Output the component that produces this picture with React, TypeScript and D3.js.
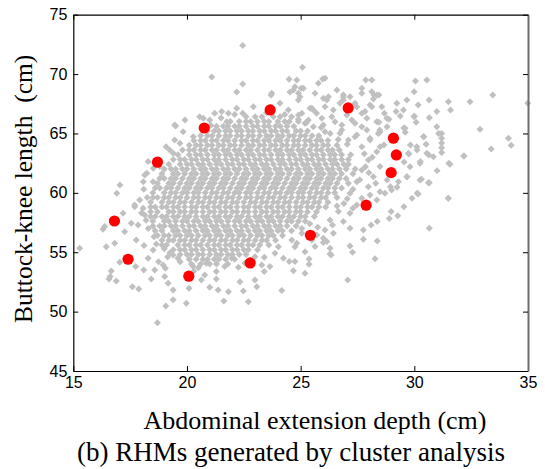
import React, { useEffect, useRef } from 'react'
import * as d3 from 'd3'

const xTicks = [15, 20, 25, 30, 35]
const yTicks = [45, 50, 55, 60, 65, 70, 75]

// dense centre of the grey cloud, read row by row: [y, x values]
const coreRows: [number, number[]][] = [
  [66.4, [22.6, 23.0, 23.3, 23.8, 24.1, 24.6]],
  [66.0, [21.9, 22.3, 22.6, 22.8, 23.1, 23.4, 23.6, 24.0, 24.3, 24.5, 24.9]],
  [65.6, [21.3, 21.6, 21.8, 22.1, 22.3, 22.6, 22.9, 23.1, 23.4, 23.6, 23.9, 24.1, 24.4, 24.7]],
  [65.2, [20.9, 21.2, 21.4, 21.7, 21.9, 22.2, 22.4, 22.7, 22.9, 23.2, 23.4, 23.7, 23.9, 24.2, 24.4, 24.8, 25.0, 25.3]],
  [64.8, [20.6, 20.9, 21.1, 21.4, 21.7, 21.9, 22.2, 22.4, 22.7, 22.9, 23.2, 23.5, 23.7, 24.0, 24.2, 24.5, 24.7, 25.0, 25.2, 25.5, 25.8]],
  [64.4, [20.3, 20.6, 20.8, 21.1, 21.3, 21.6, 21.8, 22.1, 22.4, 22.6, 22.9, 23.1, 23.4, 23.6, 23.9, 24.1, 24.4, 24.7, 24.9, 25.2, 25.4, 25.7, 25.9, 26.2]],
  [64.0, [20.1, 20.4, 20.6, 20.9, 21.1, 21.4, 21.6, 21.9, 22.1, 22.4, 22.7, 22.9, 23.2, 23.4, 23.7, 23.9, 24.2, 24.4, 24.7, 24.9, 25.2, 25.5, 25.7, 26.0, 26.2, 26.6]],
  [63.6, [19.8, 20.1, 20.3, 20.6, 20.8, 21.1, 21.3, 21.6, 21.8, 22.1, 22.3, 22.6, 22.8, 23.1, 23.4, 23.6, 23.9, 24.1, 24.4, 24.6, 24.9, 25.1, 25.4, 25.7, 25.9, 26.2, 26.4, 26.7]],
  [63.2, [19.6, 20.1, 20.4, 20.6, 20.9, 21.2, 21.4, 21.7, 21.9, 22.2, 22.4, 22.7, 22.9, 23.2, 23.4, 23.7, 24.0, 24.2, 24.5, 24.7, 25.0, 25.2, 25.5, 25.7, 26.0, 26.3, 26.5, 26.8, 27.2]],
  [62.8, [19.4, 19.7, 19.9, 20.2, 20.4, 20.7, 20.9, 21.2, 21.4, 21.7, 22.0, 22.2, 22.5, 22.7, 23.0, 23.2, 23.5, 23.7, 24.0, 24.2, 24.5, 24.8, 25.0, 25.3, 25.5, 25.8, 26.0, 26.3, 26.5, 26.8, 27.1]],
  [62.4, [19.2, 19.7, 20.0, 20.2, 20.5, 20.7, 21.0, 21.3, 21.5, 21.8, 22.0, 22.3, 22.5, 22.8, 23.0, 23.3, 23.5, 23.8, 24.1, 24.3, 24.6, 24.8, 25.1, 25.3, 25.6, 25.8, 26.1, 26.4, 26.6, 26.9, 27.1]],
  [62.0, [19.0, 19.3, 19.5, 19.8, 20.0, 20.3, 20.6, 20.8, 21.1, 21.3, 21.6, 21.8, 22.1, 22.3, 22.6, 22.9, 23.1, 23.4, 23.6, 23.9, 24.1, 24.4, 24.6, 24.9, 25.2, 25.4, 25.7, 25.9, 26.2, 26.4, 26.7, 27.0, 27.4]],
  [61.6, [18.9, 19.4, 19.6, 19.9, 20.2, 20.4, 20.7, 20.9, 21.2, 21.4, 21.7, 21.9, 22.2, 22.5, 22.7, 23.0, 23.2, 23.5, 23.7, 24.0, 24.2, 24.5, 24.8, 25.0, 25.3, 25.5, 25.8, 26.0, 26.3, 26.5, 26.8, 27.3]],
  [61.2, [18.8, 19.0, 19.3, 19.5, 19.8, 20.1, 20.3, 20.6, 20.8, 21.1, 21.3, 21.6, 21.8, 22.1, 22.4, 22.6, 22.9, 23.1, 23.4, 23.6, 23.9, 24.1, 24.4, 24.7, 24.9, 25.2, 25.4, 25.7, 25.9, 26.2, 26.4, 26.7, 27.0]],
  [60.8, [18.7, 19.2, 19.4, 19.7, 20.0, 20.2, 20.5, 20.7, 21.0, 21.2, 21.5, 21.7, 22.0, 22.3, 22.5, 22.8, 23.0, 23.3, 23.5, 23.8, 24.0, 24.3, 24.6, 24.8, 25.1, 25.3, 25.6, 25.8, 26.1, 26.3, 26.6, 27.1]],
  [60.4, [18.6, 18.8, 19.1, 19.3, 19.6, 19.9, 20.1, 20.4, 20.6, 20.9, 21.1, 21.4, 21.6, 21.9, 22.2, 22.4, 22.7, 22.9, 23.2, 23.4, 23.7, 23.9, 24.2, 24.5, 24.7, 25.0, 25.2, 25.5, 25.7, 26.0, 26.2, 26.5, 26.8]],
  [60.0, [18.5, 19.0, 19.3, 19.5, 19.8, 20.0, 20.3, 20.5, 20.8, 21.1, 21.3, 21.6, 21.8, 22.1, 22.3, 22.6, 22.8, 23.1, 23.4, 23.6, 23.9, 24.1, 24.4, 24.6, 24.9, 25.1, 25.4, 25.7, 25.9, 26.2, 26.5]],
  [59.6, [18.5, 18.7, 19.0, 19.2, 19.5, 19.7, 20.0, 20.3, 20.5, 20.8, 21.0, 21.3, 21.5, 21.8, 22.0, 22.3, 22.6, 22.8, 23.1, 23.3, 23.6, 23.8, 24.1, 24.3, 24.6, 24.9, 25.1, 25.4, 25.6, 25.9, 26.1, 26.6]],
  [59.2, [18.4, 18.9, 19.2, 19.4, 19.7, 19.9, 20.2, 20.5, 20.7, 21.0, 21.2, 21.5, 21.7, 22.0, 22.2, 22.5, 22.8, 23.0, 23.3, 23.5, 23.8, 24.0, 24.3, 24.5, 24.8, 25.1, 25.3, 25.6, 25.8, 26.2]],
  [58.8, [18.4, 18.6, 18.9, 19.1, 19.4, 19.6, 19.9, 20.2, 20.4, 20.7, 20.9, 21.2, 21.4, 21.7, 21.9, 22.2, 22.5, 22.7, 23.0, 23.2, 23.5, 23.7, 24.0, 24.2, 24.5, 24.8, 25.0, 25.3, 25.5, 25.8, 26.1]],
  [58.4, [18.4, 18.7, 19.2, 19.4, 19.7, 19.9, 20.2, 20.4, 20.7, 21.0, 21.2, 21.5, 21.7, 22.0, 22.2, 22.5, 22.7, 23.0, 23.3, 23.5, 23.8, 24.0, 24.3, 24.5, 24.8, 25.0, 25.3, 25.7]],
  [58.0, [18.4, 18.6, 18.9, 19.1, 19.4, 19.6, 19.9, 20.1, 20.4, 20.7, 20.9, 21.2, 21.4, 21.7, 21.9, 22.2, 22.4, 22.7, 23.0, 23.2, 23.5, 23.7, 24.0, 24.2, 24.5, 24.7, 25.0, 25.2, 25.6]],
  [57.6, [18.5, 19.0, 19.2, 19.5, 19.8, 20.0, 20.3, 20.5, 20.8, 21.0, 21.3, 21.5, 21.8, 22.1, 22.3, 22.6, 22.8, 23.1, 23.3, 23.6, 23.8, 24.1, 24.4, 24.6, 24.9, 25.2]],
  [57.2, [18.5, 18.8, 19.0, 19.3, 19.5, 19.8, 20.1, 20.3, 20.6, 20.8, 21.1, 21.3, 21.6, 21.8, 22.1, 22.4, 22.6, 22.9, 23.1, 23.4, 23.6, 23.9, 24.1, 24.4, 24.8]],
  [56.8, [18.6, 18.9, 19.4, 19.6, 19.9, 20.1, 20.4, 20.7, 20.9, 21.2, 21.4, 21.7, 21.9, 22.2, 22.4, 22.7, 23.0, 23.2, 23.5, 23.7, 24.0, 24.2, 24.6]],
  [56.4, [18.7, 19.0, 19.2, 19.5, 19.7, 20.0, 20.2, 20.5, 20.8, 21.0, 21.3, 21.5, 21.8, 22.0, 22.3, 22.5, 22.8, 23.1, 23.3, 23.6, 23.8, 24.2]],
  [56.0, [18.9, 19.2, 19.4, 19.7, 19.9, 20.2, 20.4, 20.7, 21.0, 21.2, 21.5, 21.7, 22.0, 22.2, 22.5, 22.7, 23.0, 23.3, 23.5, 23.9]],
  [55.6, [19.1, 19.6, 19.9, 20.1, 20.4, 20.6, 20.9, 21.2, 21.4, 21.7, 21.9, 22.2, 22.4, 22.7, 22.9, 23.2, 23.6]],
  [55.2, [19.4, 19.7, 19.9, 20.2, 20.4, 20.7, 21.0, 21.2, 21.5, 21.7, 22.0, 22.2, 22.5, 22.7, 23.1]],
  [54.8, [19.7, 20.0, 20.2, 20.5, 20.7, 21.0, 21.3, 21.5, 21.8, 22.0, 22.3, 22.6]],
  [54.4, [20.1, 20.4, 20.7, 20.9, 21.2, 21.4, 21.7, 22.1]],
  [54.0, [20.6, 21.0, 21.3, 21.8]],
]

// scattered grey points around the centre: [x, y]
const haloPoints: [number, number][] = [
  [22.45, 72.4], [21.09, 69.76], [22.45, 69.17], [22.19, 68.5], [24.49, 69.56], [25.02, 68.8], [25.08, 70.57],
  [23.7, 68.24], [24.53, 68.5], [22.19, 67.12], [21.53, 66.84], [22.45, 66.7], [19.91, 66.14], [19.5, 65.63],
  [20.72, 66.28], [19.08, 63.89], [18.23, 61.65], [17.05, 60.67], [16.91, 59.97], [18.08, 60.94], [19.4, 63.33],
  [19.69, 64.18], [20.28, 64.73], [18.81, 62.77], [18.52, 62.07], [25.97, 69.59], [27.86, 69.5], [30.05, 69.42],
  [30.55, 69.5], [31.5, 67.68], [32.45, 67.68], [33.45, 68.24], [34.99, 67.54], [32.89, 65.35], [34.14, 64.6],
  [34.26, 64.0], [33.38, 63.7], [32.19, 63.1], [31.57, 62.4], [30.62, 60.86], [31.5, 59.54], [30.99, 65.57],
  [31.2, 65.0], [31.2, 64.6], [31.2, 64.2], [31.2, 63.8], [31.2, 63.4], [30.65, 67.82], [29.99, 68.52],
  [29.67, 67.82], [29.23, 67.54], [29.52, 66.98], [29.99, 66.41], [29.59, 65.44], [29.6, 65.1], [30.4, 64.73],
  [30.11, 63.89], [30.55, 63.33], [30.84, 63.05], [30.25, 62.49], [30.25, 61.09], [29.74, 63.33], [29.81, 62.2],
  [29.55, 62.6], [29.67, 61.36], [29.3, 60.94], [29.0, 60.24], [28.49, 63.89], [28.42, 65.0], [28.79, 66.28],
  [28.23, 68.24], [28.2, 67.9], [27.17, 68.1], [26.88, 67.82], [26.0, 67.96], [26.44, 66.98], [25.41, 67.12],
  [24.68, 68.66], [24.83, 69.5], [24.97, 68.1], [28.44, 68.24], [30.17, 67.4], [28.68, 66.7], [29.2, 66.84],
  [29.38, 66.47], [30.0, 66.47], [30.66, 66.33], [30.99, 66.84], [31.59, 66.98], [30.08, 65.94], [28.44, 65.94],
  [28.88, 66.2], [28.8, 65.57], [29.54, 65.46], [28.48, 65.3], [31.07, 65.0], [30.42, 64.73], [29.83, 64.03],
  [30.12, 63.6], [30.52, 64.09], [30.64, 63.19], [30.27, 62.63], [29.76, 63.27], [28.66, 64.03], [31.52, 62.49],
  [31.0, 61.87], [32.17, 63.1], [30.31, 61.14], [30.66, 60.86], [29.68, 61.36], [29.24, 60.47], [30.12, 59.97],
  [29.9, 59.55], [29.54, 58.84], [31.49, 59.55], [28.95, 60.52], [28.8, 61.09],
  [25.78, 69.23], [25.12, 68.8], [26.59, 68.66], [26.88, 68.05], [27.69, 68.8], [28.13, 68.52], [28.35, 68.24],
  [24.9, 67.82], [25.49, 67.12], [26.15, 67.82], [26.73, 67.54], [27.47, 67.26], [28.05, 67.4], [28.57, 67.26],
  [24.9, 66.56], [25.7, 66.7], [26.37, 66.41], [27.03, 66.56], [27.69, 66.7], [27.91, 66.28], [28.35, 65.99],
  [27.39, 65.85], [26.81, 65.72], [26.0, 65.72], [25.19, 65.85], [27.91, 65.3], [28.49, 65.15], [27.47, 64.87],
  [26.73, 65.01], [27.1, 64.45], [28.05, 64.45], [27.69, 63.89], [28.35, 63.47], [27.98, 62.77], [28.49, 62.21],
  [27.69, 61.93], [28.2, 61.36], [27.47, 60.94], [27.98, 60.52], [28.49, 60.1], [27.17, 59.97], [27.69, 59.55],
  [27.8, 63.3], [28.15, 63.0], [27.85, 62.2], [28.0, 61.7], [27.6, 61.1], [28.3, 60.8], [27.3, 60.3],
  [27.05, 59.5], [26.9, 59.1], [27.3, 58.7], [26.6, 58.9], [26.4, 57.3], [25.75, 57.1], [25.4, 57.4], [25.05, 57.0],
  [30.66, 57.02], [30.17, 59.91], [28.98, 58.42], [29.27, 58.08], [28.9, 57.85], [28.37, 57.58], [28.1, 57.3],
  [28.37, 55.95], [27.76, 56.88], [27.76, 56.1], [27.17, 55.53], [27.28, 55.0], [28.27, 54.46], [27.07, 52.67],
  [26.29, 54.86], [26.29, 55.33], [27.17, 57.02], [26.15, 55.9], [26.0, 56.18], [25.37, 54.43], [25.37, 53.99],
  [25.19, 53.23], [24.68, 53.45], [24.75, 54.21], [28.05, 59.82], [28.35, 59.4], [28.71, 59.97], [27.47, 58.98],
  [27.17, 58.28], [26.66, 58.42], [26.29, 57.72], [26.88, 57.58], [26.07, 56.88], [26.44, 56.6], [25.71, 56.46],
  [24.83, 55.76], [25.63, 55.48], [25.19, 55.05],
  [22.7, 50.84], [24.17, 51.77], [23.07, 52.1], [22.48, 51.74], [21.82, 51.68], [22.99, 52.67], [22.33, 52.52],
  [23.4, 53.37], [23.65, 53.79], [24.5, 54.21], [23.87, 54.92], [23.4, 54.58], [22.26, 53.74], [21.97, 54.5],
  [26.34, 54.77], [25.49, 56.04], [26.0, 55.82], [22.55, 54.07], [22.99, 54.63], [24.02, 55.47], [24.61, 56.04],
  [25.05, 56.6], [24.75, 55.47], [24.24, 54.49], [23.29, 53.93],
  [15.28, 55.34], [16.31, 56.94], [16.45, 55.47], [16.82, 55.76], [16.67, 53.43], [16.57, 52.75], [16.89, 52.58],
  [17.6, 52.1], [17.88, 51.91], [17.04, 54.16], [17.19, 58.28], [17.7, 58.98], [18.07, 58.7], [17.55, 57.44],
  [17.26, 56.73], [17.77, 56.03], [18.11, 55.56], [17.74, 53.79], [18.1, 53.51], [18.58, 53.51], [18.43, 52.75],
  [19.05, 53.65], [19.02, 52.95], [19.17, 52.39], [19.39, 51.82], [19.07, 50.48], [19.39, 50.99], [19.97, 50.71],
  [18.7, 49.07], [20.09, 51.97], [20.63, 52.67], [21.0, 52.05], [21.37, 51.82], [21.29, 52.75], [18.29, 54.49],
  [18.51, 55.19], [16.62, 52.95], [21.62, 50.9], [19.39, 54.77], [18.95, 53.93], [20.27, 53.79], [20.85, 54.07],
  [21.29, 53.37], [21.66, 53.79], [20.78, 53.09], [20.05, 52.95], [18.75, 54.2], [19.15, 54.6], [18.9, 55.6],
  [19.7, 54.2], [20.3, 53.4], [18.3, 57.0], [18.2, 57.7], [18.0, 58.3], [18.25, 59.6], [18.1, 60.3], [18.55, 56.3],
  [18.65, 55.7], [19.0, 55.3], [19.25, 54.95], [19.6, 54.5], [20.2, 54.0], [20.5, 53.7],
  [18.29, 62.63], [18.14, 61.51], [18.51, 60.94], [18.8, 62.21], [19.24, 63.61], [19.46, 64.45], [19.83, 65.15],
  [19.46, 65.72], [20.56, 66.41], [21.0, 66.14], [21.22, 66.7], [17.7, 58.84], [17.92, 59.4], [18.14, 58.14],
  [16.38, 57.16], [17.85, 57.3], [21.05, 65.7], [21.5, 66.3], [22.1, 66.6], [23.5, 66.75], [24.3, 66.6],
  [24.9, 66.2], [25.25, 65.9], [25.9, 65.5], [26.3, 65.0], [26.65, 64.5], [27.05, 64.1],
  [24.75, 68.94], [26.07, 69.65], [23.73, 68.38], [24.9, 68.38], [25.63, 68.38], [26.22, 68.1], [26.88, 68.24],
  [27.69, 68.38], [28.13, 69.5], [22.92, 67.26], [24.09, 67.54], [24.46, 66.98], [25.05, 66.7], [25.56, 66.98],
  [26.07, 67.26], [27.39, 67.54], [27.83, 66.84], [28.13, 67.26], [21.82, 66.7], [21.75, 65.99], [25.34, 66.14],
  [25.93, 66.28], [26.51, 65.99], [27.25, 66.14], [27.69, 65.57], [26.81, 65.3], [26.07, 65.15], [27.39, 64.73],
  [28.05, 64.6], [25.56, 65.57],
]

// red points: RHMs from the cluster analysis
const clusterX = [18.7, 20.76, 23.66, 27.09, 29.08, 29.21, 28.98, 27.88, 25.43, 16.81, 17.41, 20.08, 22.78]
const clusterY = [62.58, 65.46, 66.98, 67.15, 64.6, 63.19, 61.7, 58.96, 56.43, 57.63, 54.41, 52.98, 54.1]

const W = 545
const H = 469
const plot = { left: 73.3, right: 528, top: 14.7, bottom: 371 }
const sansFont = '"Liberation Sans", Arial, sans-serif'
const serifFont = '"Liberation Serif", "Times New Roman", serif'

export default function App() {
  const svgRef = useRef<SVGSVGElement>(null)

  useEffect(() => {
    if (!svgRef.current) return
    const svg = d3.select(svgRef.current)
    svg.selectAll('*').remove()

    const x = d3.scaleLinear().domain([15, 35]).range([plot.left, plot.right])
    const y = d3.scaleLinear().domain([45, 75]).range([plot.bottom, plot.top])

    svg.append('rect').attr('width', W).attr('height', H).attr('fill', '#fff')

    const grey: [number, number][] = []
    coreRows.forEach(([yy, xs]) => xs.forEach(xx => grey.push([xx, yy])))
    haloPoints.forEach(p => grey.push(p))

    const diamond = 'M0,-3.5L3.5,0L0,3.5L-3.5,0Z'
    svg.append('g')
      .selectAll('path')
      .data(grey)
      .enter()
      .append('path')
      .attr('d', diamond)
      .attr('transform', d => `translate(${x(d[0])},${y(d[1])})`)
      .attr('fill', '#c0c0c0')

    svg.append('g')
      .selectAll('circle')
      .data(clusterX.map((cx, i) => [cx, clusterY[i]]))
      .enter()
      .append('circle')
      .attr('cx', d => x(d[0]))
      .attr('cy', d => y(d[1]))
      .attr('r', 5.6)
      .attr('fill', '#ff0000')

    // axes, ticks pointing inward
    const styleAxis = (g: d3.Selection<SVGGElement, unknown, null, undefined>, color = '#000', w = 1.2) => {
      g.select('.domain').attr('stroke', color).attr('stroke-width', w)
      g.selectAll('.tick line').attr('stroke', '#000')
      g.selectAll('text')
        .attr('fill', '#000')
        .style('font-family', sansFont)
        .style('font-size', '16px')
    }

    const bottom = svg.append('g')
      .attr('transform', `translate(0,${plot.bottom})`)
      .call(d3.axisBottom(x).tickValues(xTicks).tickSizeInner(-5).tickSizeOuter(0).tickPadding(6))
    styleAxis(bottom)

    const left = svg.append('g')
      .attr('transform', `translate(${plot.left},0)`)
      .call(d3.axisLeft(y).tickValues(yTicks).tickSizeInner(-5).tickSizeOuter(0).tickPadding(6))
    styleAxis(left)

    const top = svg.append('g')
      .attr('transform', `translate(0,${plot.top})`)
      .call(d3.axisTop(x).tickValues(xTicks).tickSizeInner(-5).tickSizeOuter(0).tickFormat(() => ''))
    styleAxis(top)

    const right = svg.append('g')
      .attr('transform', `translate(${plot.right},0)`)
      .call(d3.axisRight(y).tickValues(yTicks).tickSizeInner(-5).tickSizeOuter(0).tickFormat(() => ''))
    styleAxis(right, '#6e6e6e', 2)

    svg.append('text')
      .attr('transform', `translate(32,${(plot.top + plot.bottom) / 2 - 4}) rotate(-90)`)
      .attr('text-anchor', 'middle')
      .style('font-family', serifFont)
      .style('font-size', '25.5px')
      .style('white-space', 'pre')
      .attr('fill', '#000')
      .text('Buttock-knee length  (cm)')

    svg.append('text')
      .attr('x', 315)
      .attr('y', 429)
      .attr('text-anchor', 'middle')
      .style('font-family', serifFont)
      .style('font-size', '26px')
      .attr('fill', '#000')
      .text('Abdominal extension depth (cm)')

    svg.append('text')
      .attr('x', 291)
      .attr('y', 461)
      .attr('text-anchor', 'middle')
      .style('font-family', serifFont)
      .style('font-size', '27px')
      .attr('fill', '#000')
      .text('(b) RHMs generated by cluster analysis')
  }, [])

  return (
    <svg
      ref={svgRef}
      width={W}
      height={H}
      style={{ position: 'absolute', left: 0, top: 0, display: 'block' }}
    />
  )
}
